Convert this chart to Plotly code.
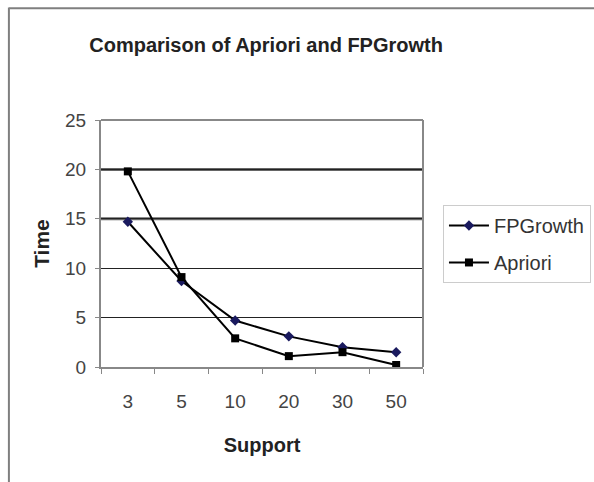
import plotly.graph_objects as go

support = ["3", "5", "10", "20", "30", "50"]
fpgrowth = [14.7, 8.7, 4.7, 3.1, 2.0, 1.5]
apriori = [19.8, 9.1, 2.9, 1.1, 1.5, 0.2]
y_ticks = [0, 5, 10, 15, 20, 25]
heavy_grid = [15, 20]

fig = go.Figure()
fig.add_trace(go.Scatter(
    x=support, y=fpgrowth, name="FPGrowth", mode="lines+markers", legendgroup="fp",
    line=dict(color="black", width=2),
    marker=dict(symbol="diamond", size=8, color="#1a1a5e"),
))
fig.add_trace(go.Scatter(
    x=support, y=apriori, name="Apriori", mode="lines+markers", legendgroup="ap",
    line=dict(color="black", width=2),
    marker=dict(symbol="square", size=8, color="black"),
))

shapes = []
for v in heavy_grid:
    shapes.append(dict(type="line", xref="paper", yref="y", x0=0, x1=1, y0=v, y1=v,
                       line=dict(color="#666666", width=3), layer="below"))
# outer frame (top and left edges)
shapes.append(dict(type="line", xref="paper", yref="paper", x0=-0.285, x1=1.6,
                   y0=1.452, y1=1.452, line=dict(color="#7f7f7f", width=2)))
shapes.append(dict(type="line", xref="paper", yref="paper", x0=-0.286, x1=-0.286,
                   y0=1.455, y1=-0.5, line=dict(color="#7f7f7f", width=2)))
# top and right border of the plot area
shapes.append(dict(type="line", xref="paper", yref="paper", x0=0, x1=1, y0=1, y1=1,
                   line=dict(color="#888888", width=2)))
shapes.append(dict(type="line", xref="paper", yref="paper", x0=1, x1=1, y0=0, y1=1,
                   line=dict(color="#888888", width=2)))

font_family = "Liberation Sans, Arial, sans-serif"
fig.update_layout(
    width=594, height=482,
    margin=dict(l=101, r=171, t=120, b=115, autoexpand=False),
    paper_bgcolor="white", plot_bgcolor="white",
    font=dict(family=font_family, color="#333333", size=19),
    title=dict(text="<b>Comparison of Apriori and FPGrowth</b>", x=0.448, xanchor="center",
               y=0.906, yanchor="middle", font=dict(size=20, color="#222222")),
    xaxis=dict(type="category", range=[-0.5, 5.5], showgrid=False,
               showline=True, linecolor="#888888", linewidth=2, mirror=False,
               ticks="outside", tickson="boundaries", ticklen=5, tickcolor="#888888",
               ticklabelstandoff=16,
               tickfont=dict(size=19, color="#444444"),
               title=dict(text="<b>Support</b>", font=dict(size=20, color="#222222"), standoff=27)),
    yaxis=dict(range=[0, 25], tickvals=y_ticks, showgrid=True, gridcolor="#222222", gridwidth=1,
               showline=True, linecolor="#888888", linewidth=2,
               ticks="outside", ticklen=4, tickcolor="#888888",
               ticklabelstandoff=5,
               tickfont=dict(size=19, color="#444444"),
               title=dict(text="<b>Time</b>", font=dict(size=21, color="#222222"), standoff=10)),
    shapes=shapes,
    legend=dict(x=1.062, y=0.656, xanchor="left", yanchor="top",
                bordercolor="#cccccc", borderwidth=1, bgcolor="white", itemwidth=40,
                font=dict(size=20, color="#333333"), tracegroupgap=8),
    showlegend=True,
)

fig.write_html("out.html")
